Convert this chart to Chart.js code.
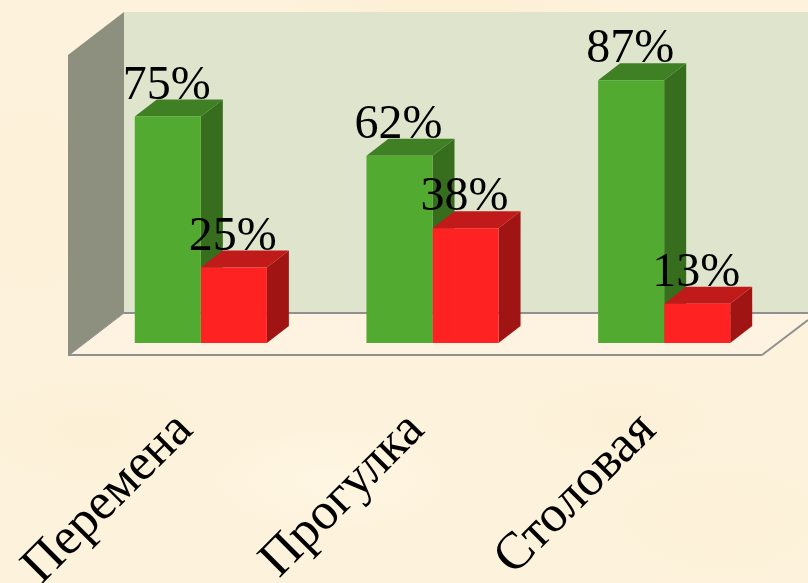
<!DOCTYPE html>
<html lang="ru">
<head>
<meta charset="utf-8">
<title>Chart</title>
<script src="https://cdn.jsdelivr.net/npm/chart.js@4"></script>
<style>
html, body { margin: 0; padding: 0; overflow: hidden; }
body {
    width: 808px; height: 583px;
    background-color: #fdf2db;
    background-image:
        radial-gradient(ellipse 130px 60px at 90px 430px, rgba(250,236,200,.25), rgba(250,236,200,0)),
        radial-gradient(ellipse 160px 70px at 330px 480px, rgba(255,248,232,.6), rgba(255,248,232,0)),
        radial-gradient(ellipse 120px 50px at 620px 420px, rgba(250,238,204,.25), rgba(250,238,204,0)),
        radial-gradient(ellipse 150px 80px at 720px 520px, rgba(251,238,206,.2), rgba(251,238,206,0)),
        radial-gradient(ellipse 100px 120px at 30px 200px, rgba(255,240,215,.6), rgba(255,240,215,0)),
        radial-gradient(ellipse 180px 40px at 450px 8px, rgba(250,238,208,.5), rgba(250,238,208,0));
}
canvas { display: block; }
</style>
</head>
<body>
<canvas id="chart" width="808" height="583"></canvas>
<script>
var categories = ["Перемена", "Прогулка", "Столовая"];
var greenValues = [75, 62, 87];
var redValues = [25, 38, 13];

var serif = "'Liberation Serif', serif";
var depthX = 22;
var depthY = 17;
var faces = [
    {side: "#376e1e", top: "#408024"},
    {side: "#a01514", top: "#c01a1a"}
];

function polygon(ctx, points, fill){
    ctx.beginPath();
    ctx.moveTo(points[0][0], points[0][1]);
    for (let i = 1; i < points.length; i++) ctx.lineTo(points[i][0], points[i][1]);
    ctx.closePath();
    ctx.fillStyle = fill;
    ctx.fill();
}

function line(ctx, x1, y1, x2, y2, width){
    ctx.beginPath();
    ctx.moveTo(x1, y1);
    ctx.lineTo(x2, y2);
    ctx.lineWidth = width;
    ctx.strokeStyle = "#8f9090";
    ctx.stroke();
}

// walls, floor and the side + top faces of the bars
var scene = {
    id: "scene",
    beforeDatasetsDraw(chart){
        let ctx = chart.ctx;
        ctx.save();
        polygon(ctx, [[124,12],[808,12],[808,313],[124,313]], "#dfe5cc");
        polygon(ctx, [[68,55],[124,12],[124,313],[68,356]], "#8e907f");
        polygon(ctx, [[68,356],[124,313],[808,313],[808,320],[762,355]], "#fef3e0");
        line(ctx, 124, 313, 808, 313, 2);
        line(ctx, 68, 355, 762, 355, 2);
        line(ctx, 762, 355, 808, 320, 2);
        line(ctx, 68, 356, 124, 313, 1);

        chart.data.datasets.forEach(function(set, i){
            chart.getDatasetMeta(i).data.forEach(function(bar){
                let l = bar.x - bar.width / 2;
                let r = bar.x + bar.width / 2;
                polygon(ctx, [[r,bar.y],[r+depthX,bar.y-depthY],[r+depthX,bar.base-depthY],[r,bar.base]], faces[i].side);
                polygon(ctx, [[l,bar.y],[l+depthX,bar.y-depthY],[r+depthX,bar.y-depthY],[r,bar.y]], faces[i].top);
            });
        });
        ctx.restore();
    },
    afterDatasetsDraw(chart){
        let ctx = chart.ctx;
        ctx.save();
        ctx.font = "48px " + serif;
        ctx.fillStyle = "#000";
        ctx.textAlign = "center";
        ctx.textBaseline = "alphabetic";
        chart.data.datasets.forEach(function(set, i){
            chart.getDatasetMeta(i).data.forEach(function(bar, j){
                ctx.fillText(set.data[j] + "%", bar.x - 1, bar.y - 18);
            });
        });
        ctx.restore();
    }
};

new Chart(document.getElementById("chart"), {
    type: "bar",
    data: {
        labels: categories,
        datasets: [
            {data: greenValues, backgroundColor: "#52ab30", categoryPercentage: 0.5702, barPercentage: 1},
            {data: redValues, backgroundColor: "#fe2222", categoryPercentage: 0.5702, barPercentage: 1}
        ]
    },
    options: {
        responsive: false,
        animation: false,
        layout: {padding: {left: 85, right: 28, top: 41, bottom: 0}},
        plugins: {legend: {display: false}, tooltip: {enabled: false}},
        scales: {
            y: {display: false, min: 0, max: 100},
            x: {
                afterFit(scale){
                    scale.height = 240;
                    scale.paddingLeft = 0;
                    scale.paddingRight = 0;
                },
                grid: {display: false},
                border: {display: false},
                ticks: {
                    color: "#000",
                    font: {family: serif, size: 52},
                    minRotation: 45,
                    maxRotation: 45,
                    padding: 49,
                    labelOffset: -16,
                    autoSkip: false
                }
            }
        }
    },
    plugins: [scene]
});
</script>
</body>
</html>
